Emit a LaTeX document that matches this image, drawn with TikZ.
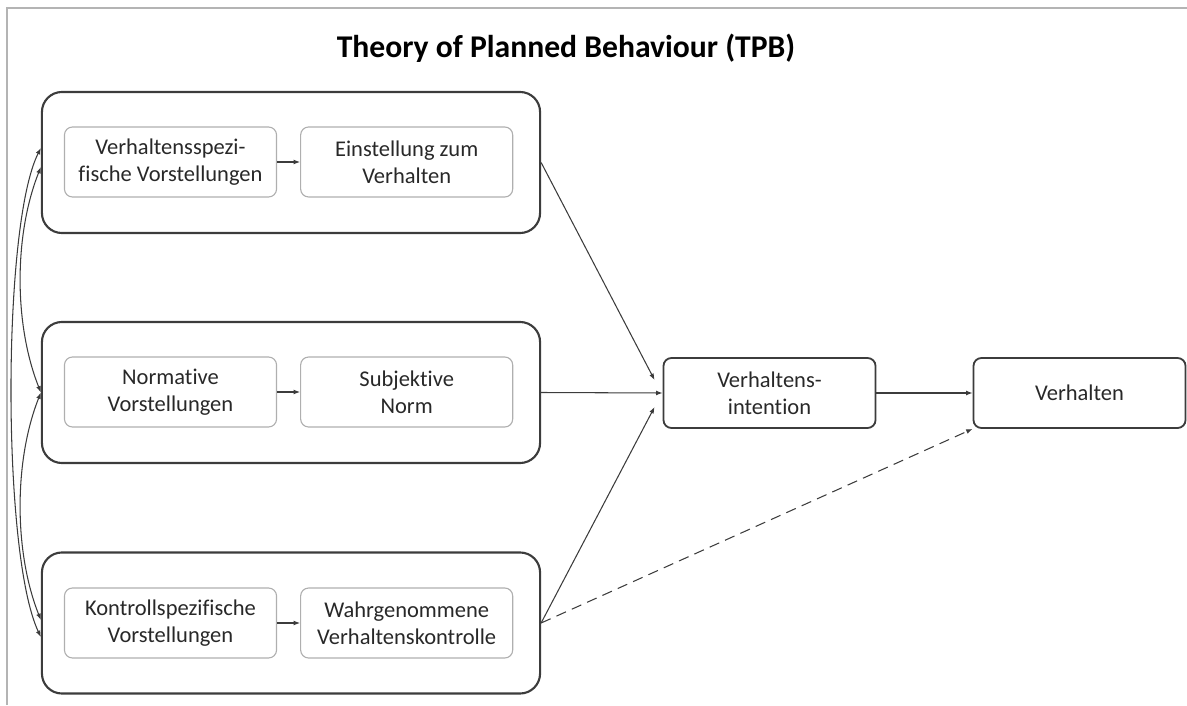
\documentclass[tikz,border=0pt]{standalone}
\usepackage{fontspec}
\setmainfont{Carlito}[Ligatures={NoCommon}]
\usetikzlibrary{positioning,arrows.meta,calc}
\definecolor{boxline}{RGB}{60,60,60}
\definecolor{innerline}{RGB}{175,175,175}
\definecolor{frameline}{RGB}{180,180,180}
\definecolor{txt}{RGB}{40,40,40}
\tikzset{
  outerbox/.style={draw=boxline, line width=1.5pt, rounded corners=0.5cm,
                   minimum width=12.45cm, minimum height=3.525cm},
  innerbox/.style={draw=innerline, line width=0.8pt, rounded corners=0.2cm,
                   minimum width=5.3cm, minimum height=1.75cm, align=center,
                   text=txt, font=\fontsize{16}{19.5}\selectfont},
  mainbox/.style={innerbox, draw=boxline, line width=1.3pt},
  arrow/.style={-{Latex[length=1.6mm, width=1.2mm]}, line width=0.75pt, boxline},
  biarrow/.style={{Latex[length=1.6mm, width=1.2mm]}-{Latex[length=1.6mm, width=1.2mm]},
                  line width=0.75pt, boxline},
}

\begin{document}
\begin{tikzpicture}[x=0.025cm, y=0.025cm, node distance=0.575cm]
  \useasboundingbox (0,0) rectangle (1187,705);
  \draw[frameline, line width=0.9pt] (7,0) -- (7,697) -- (1187,697);

  \node[font=\fontsize{22.5}{27}\selectfont\bfseries] (title) at (566,657)
    {Theory of Planned Behaviour (TPB)};

  % groups
  \node[outerbox] (ob1) at (291,542.5) {};
  \node[outerbox] (ob2) at (291,312.5) {};
  \node[outerbox] (ob3) at (291,82) {};

  \node[innerbox] (vs) at (170.5,543) {Verhaltensspezi-\\fische Vorstellungen};
  \node[innerbox, right=of vs] (ez) {Einstellung zum\\Verhalten};
  \node[innerbox] (nv) at (170.5,313) {Normative\\Vorstellungen};
  \node[innerbox, right=of nv] (sn) {Subjektive\\Norm};
  \node[innerbox] (kv) at (170.5,82) {Kontrollspezifische\\Vorstellungen};
  \node[innerbox, right=of kv] (wv) {Wahrgenommene\\Verhaltenskontrolle};

  \node[mainbox] (vi) at (769.5,312) {Verhaltens-\\intention};
  \node[mainbox] (vl) at (1079.5,312) {Verhalten};

  \draw[arrow] (vs) -- (ez);
  \draw[arrow] (nv) -- (sn);
  \draw[arrow] (kv) -- (wv);

  \draw[arrow] (ob1.east) -- ($(vi.west)+(-8,13)$);
  \draw[arrow] (ob2.east) -- (vi.west);
  \draw[arrow] (ob3.east) -- ($(vi.west)+(-8,-14)$);
  \draw[arrow, dash pattern=on 2.6mm off 1.6mm] (ob3.east) -- (vl.south west);
  \draw[arrow] (vi) -- (vl);

  % correlations
  \draw[biarrow] ($(ob1.west)+(0,14.5)$) .. controls +(-39,-77) and +(-39,82) .. ($(ob3.west)+(0,-14)$);
  \draw[biarrow] ($(ob1.west)+(0,-4.5)$) .. controls +(-27,-68) and +(-27,68) .. (ob2.west);
  \draw[biarrow] (ob2.west) .. controls +(-27,-68) and +(-27,68) .. ($(ob3.west)+(0,3)$);
\end{tikzpicture}
\end{document}
